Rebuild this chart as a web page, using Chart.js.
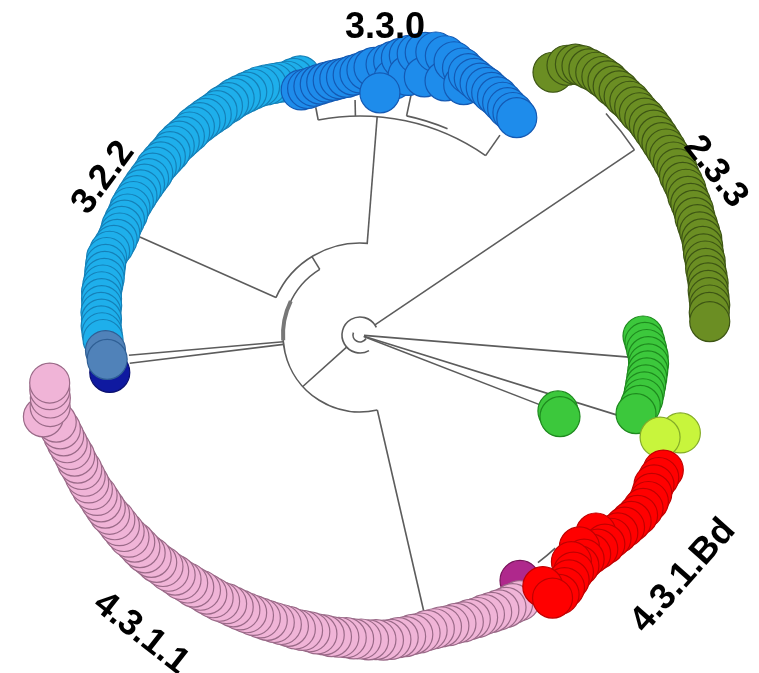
<!DOCTYPE html>
<html>
<head>
<meta charset="utf-8">
<script src="https://cdn.jsdelivr.net/npm/chart.js@4.4.1/dist/chart.umd.min.js"></script>
<style>
  html, body { margin: 0; padding: 0; background: #fff; }
  #tree { display: block; }
</style>
</head>
<body>
<canvas id="tree" width="759" height="673"></canvas>
<script>
// tips as [angle (deg, clockwise from east), distance from root]
const tips322 = [[257,266],[255.5,265],[254,264],[252.5,265],[251,266],[249.5,267],[248,268],[246.5,268],[245,268],[243.5,268],[242,268],[240.5,267],[239,267],[237.5,266],[236,266],[234.5,266],[233,266],[231.5,266],[230,265],[228.5,265],[227,265],[225.5,265],[224,264],[222.5,264],[221,264],[219.5,264],[218,263],[216.5,263],[215,263],[213.5,263],[212,263],[210.5,263],[209,263],[207.5,262],[206,262],[204.5,262],[203,261],[201.5,261],[200,262],[198.5,264],[197,265],[195.5,264],[194,263],[192.5,262],[191,262],[189.5,262],[188,261],[186.5,260],[185,260],[183.5,259],[182,259],[180.5,258],[179,257]]
const tips322Dark = [[171.5,253]]
const tips322Shade = [[176.5,255],[174.5,254]]
const tips330 = [[256.5,252],[258,252],[259.5,253],[261,254],[262.5,255],[264,256],[265.5,257],[267,258],[268.5,260],[270,262],[271.5,265],[273,268],[275.5,272],[277,276],[277.5,258],[278.5,280],[280,284],[280.5,264],[281.5,287],[283,290],[284,266],[285,293],[287,292],[288.5,268],[289,289],[291,286],[292.5,271],[292.5,283],[294,281],[295.5,279],[297,278],[298.5,276],[300,275],[301.5,273],[303,271],[304.5,270],[305.8,268],[274.7,243]]
const tips233 = [[306.3,326],[307.5,340],[308.5,346],[309.5,349],[310.7,351],[311.9,353],[313.1,354],[314.3,355],[315.5,355],[316.7,356],[317.9,356],[319.1,357],[320.3,357],[321.5,357],[322.7,358],[323.9,358],[325.1,358],[326.3,358],[327.5,358],[328.7,358],[329.9,358],[331.1,358],[332.3,358],[333.5,357],[334.7,357],[335.9,357],[337.1,356],[338.3,356],[339.5,356],[340.7,355],[341.9,355],[343.1,355],[344.3,355],[345.5,354],[346.7,353],[347.9,353],[349.1,352],[350.3,352],[351.5,352],[352.7,351],[353.9,351],[355.1,351],[356.3,350],[357.8,350]]
const tipsGreen = [[0.2,283],[1.5,285],[2.9,287],[4.3,289],[5.7,290],[7.1,290],[8.5,290],[9.9,290],[11.3,290],[12.7,290],[14.1,289],[15.9,287]]
const tipsGreenPair = [[21.0,212],[22.2,216]]
const tipsLime = [[17.0,335],[18.8,317]]
const tipsMagenta = [[56.9,293]]
const tips4311 = [[59,310],[60.4,309],[61.8,309],[63.2,308],[64.6,307],[66,306],[67.4,306],[68.8,305],[70.2,305],[71.6,304],[73,304],[74.4,303],[75.8,303],[77.2,303],[78.6,304],[80,304],[81.4,305],[82.8,305],[84.2,306],[85.6,306],[87,305],[88.4,305],[89.8,304],[91.2,304],[92.6,303],[94,303],[95.4,303],[96.8,302],[98.2,302],[99.6,301],[101,301],[102.4,301],[103.8,300],[105.2,300],[106.6,300],[108,300],[109.4,300],[110.8,300],[112.2,300],[113.6,300],[115,300],[116.4,300],[117.8,301],[119.2,301],[120.6,301],[122,301],[123.4,302],[124.8,302],[126.2,303],[127.6,303],[129,304],[130.4,304],[131.8,305],[133.2,305],[134.6,306],[136,306],[137.4,306],[138.8,307],[140.2,307],[141.6,307],[143,307],[144.4,308],[145.8,308],[147.2,308],[148.6,308],[150,309],[151.4,309],[152.8,309],[154.2,309],[155.6,310],[157,310],[158.4,311],[159.8,312],[161.2,313],[162.6,314],[164,316],[165.5,327],[167,318],[168.5,316],[170,315],[171.2,314]]
const tips431Bd = [[24,332],[25.5,331],[27,330],[28.5,332],[30,333],[31.5,332],[33,331],[34.5,329],[36,327],[37.5,325],[39,323],[40,308],[40.5,322],[42,320],[43.5,318],[44,305],[45,317],[46.5,318],[47,310],[48,319],[49.5,322],[51,325],[52.5,327],[54,311],[53.8,326]]

// branches: arcs [radius, from deg, to deg], spokes [deg, inner radius, outer radius]
const nodeArcs = [[18,60,335],[7,30,200],[77,77,238.5],[92,204,275],[219,259,305],[224,282,293],[331,318,326],[289,47.5,52]]
const nodeSpokes = [[138,18,77],[326,18,331],[4.7,4,270],[17.3,4,272],[21.2,4,196],[238.5,77,92],[204,92,241],[274.5,92,219],[77,77,285],[175,77,232],[173,77,232],[259,219,232],[268.8,219,235],[282,224,250],[305,219,244]]
const denseArcs = [[77,176,206]]

const cladeNames = ['3.3.0', '3.2.2', '2.3.3', '4.3.1.Bd', '4.3.1.1']

const rad = d => d * Math.PI / 180
const toXY = ([a, r]) => ({ x: r * Math.cos(rad(a)), y: r * Math.sin(rad(a)) })

function clade(tips, fill, edge, layer) {
  return {
    data: tips.map(toXY),
    backgroundColor: fill,
    borderColor: edge,
    borderWidth: 1.2,
    pointRadius: 20,
    pointHoverRadius: 20,
    showLine: false,
    clip: false,
    order: 100 - layer
  }
}

const branches = {
  id: 'branches',
  beforeDatasetsDraw(chart) {
    const { ctx, scales: { x, y } } = chart
    const cx = x.getPixelForValue(0), cy = y.getPixelForValue(0)
    const px = r => x.getPixelForValue(r) - cx
    ctx.save()
    ctx.strokeStyle = '#5c5c5c'
    ctx.lineWidth = 1.6
    nodeArcs.forEach(([r, a0, a1]) => {
      ctx.beginPath()
      ctx.arc(cx, cy, px(r), rad(a0), rad(a1), false)
      ctx.stroke()
    })
    nodeSpokes.forEach(([a, r0, r1]) => {
      ctx.beginPath()
      ctx.moveTo(cx + px(r0) * Math.cos(rad(a)), cy + px(r0) * Math.sin(rad(a)))
      ctx.lineTo(cx + px(r1) * Math.cos(rad(a)), cy + px(r1) * Math.sin(rad(a)))
      ctx.stroke()
    })
    ctx.lineWidth = 4
    ctx.strokeStyle = '#777'
    denseArcs.forEach(([r, a0, a1]) => {
      ctx.beginPath()
      ctx.arc(cx, cy, px(r), rad(a0), rad(a1), false)
      ctx.stroke()
    })
    ctx.restore()
  }
}

// clade labels, anchored relative to the root
const labelSpots = [
  { x: 25, y: -310, rot: 0 },
  { x: -259, y: -159, rot: -53.5 },
  { x: 358, y: -165, rot: 52 },
  { x: 321, y: 239, rot: -48.5 },
  { x: -217, y: 296, rot: 38 }
]

const cladeLabels = {
  id: 'cladeLabels',
  afterDatasetsDraw(chart) {
    const { ctx, scales: { x, y } } = chart
    ctx.save()
    ctx.fillStyle = '#000'
    ctx.font = 'bold 36px "Liberation Sans", Arial, sans-serif'
    ctx.textAlign = 'center'
    ctx.textBaseline = 'alphabetic'
    cladeNames.forEach((name, i) => {
      const s = labelSpots[i]
      ctx.save()
      ctx.translate(x.getPixelForValue(s.x), y.getPixelForValue(s.y))
      ctx.rotate(rad(s.rot))
      ctx.fillText(name, 0, 13)
      ctx.restore()
    })
    ctx.restore()
  }
}

new Chart(document.getElementById('tree'), {
  type: 'scatter',
  data: {
    datasets: [
      clade(tips233, '#6b8e23', '#3d5514', 0),
      clade(tips322, '#1eafeb', '#1580b8', 1),
      clade(tips322Dark, '#0f19a0', '#0a1070', 2),
      clade(tips322Shade, '#5082b9', '#2f5f95', 3),
      clade(tips330, '#1e8ceb', '#145ab4', 4),
      clade(tipsGreen, '#3cc83c', '#1e8a1e', 5),
      clade(tipsGreenPair, '#3cc83c', '#1e8a1e', 6),
      clade(tipsLime, '#c8f53c', '#84ac28', 7),
      clade(tipsMagenta, '#af288c', '#78145a', 8),
      clade(tips4311, '#f0b4d7', '#9a6a88', 9),
      clade(tips431Bd, '#ff0000', '#c00000', 10)
    ]
  },
  options: {
    responsive: false,
    devicePixelRatio: 1,
    animation: false,
    events: [],
    layout: { padding: 0, autoPadding: false },
    scales: {
      x: { type: 'linear', min: -360, max: 399, display: false },
      y: { type: 'linear', min: -335, max: 338, reverse: true, display: false }
    },
    plugins: { legend: { display: false }, tooltip: { enabled: false } }
  },
  plugins: [branches, cladeLabels]
})
</script>
</body>
</html>
